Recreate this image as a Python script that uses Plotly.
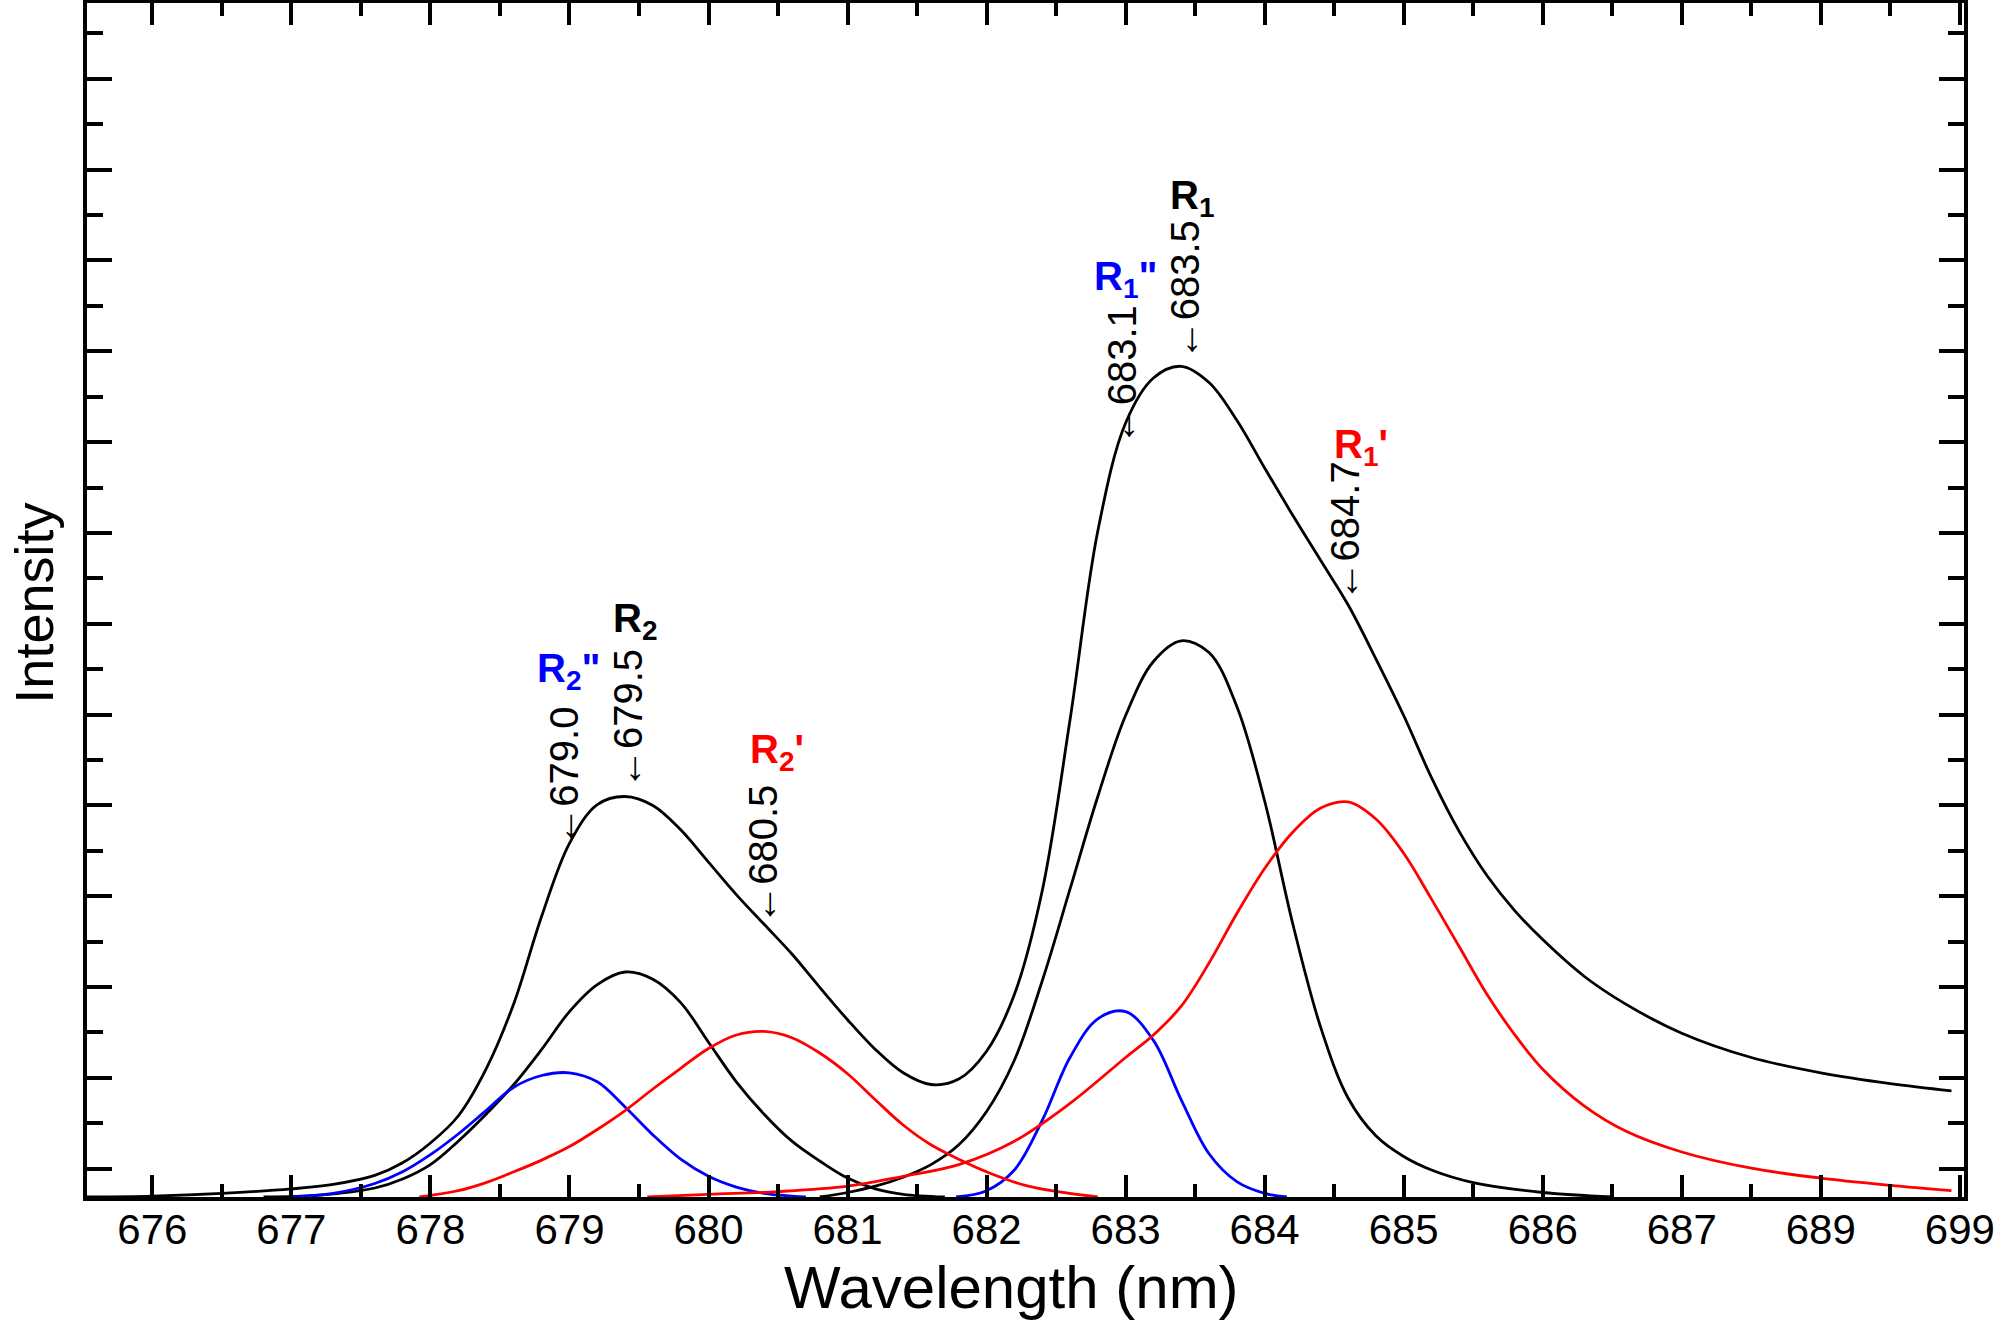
import plotly.graph_objects as go

# ---------------- data (x in axis units, y in arbitrary intensity units) ----------------
tick_vals = [676, 677, 678, 679, 680, 681, 682, 683, 684, 685, 686, 687, 688, 689]
tick_text = ["676", "677", "678", "679", "680", "681", "682", "683", "684", "685", "686", "687", "689", "699"]

x_total = [675.53, 676.0, 676.5, 677.0, 677.3, 677.6, 677.8, 678.0, 678.2, 678.4, 678.6, 678.8,
           679.0, 679.2, 679.4, 679.6, 679.8, 680.0, 680.2, 680.4, 680.6, 680.8, 681.0, 681.2,
           681.4, 681.6, 681.8, 682.0, 682.2, 682.4, 682.6, 682.8, 683.0, 683.2, 683.4, 683.6,
           683.8, 684.0, 684.2, 684.4, 684.6, 684.8, 685.0, 685.2, 685.4, 685.6, 685.8, 686.0,
           686.3, 686.6, 687.0, 687.5, 688.0, 688.5, 688.94]
y_total = [0.00, 0.01, 0.04, 0.09, 0.14, 0.24, 0.38, 0.60, 0.90, 1.42, 2.15, 3.12,
           3.93, 4.36, 4.45, 4.35, 4.08, 3.72, 3.36, 3.03, 2.70, 2.33, 1.97, 1.64,
           1.38, 1.25, 1.31, 1.62, 2.25, 3.40, 5.30, 7.40, 8.60, 9.10, 9.23, 9.05,
           8.63, 8.10, 7.58, 7.08, 6.58, 5.98, 5.35, 4.66, 4.06, 3.57, 3.18, 2.86,
           2.45, 2.14, 1.82, 1.55, 1.38, 1.26, 1.18]

x_r2 = [676.8, 677.2, 677.6, 677.8, 678.0, 678.2, 678.4, 678.6, 678.8, 679.0, 679.2, 679.4,
        679.6, 679.8, 680.0, 680.2, 680.4, 680.6, 680.8, 681.0, 681.2, 681.4, 681.7]
y_r2 = [0.0, 0.02, 0.10, 0.20, 0.36, 0.62, 0.92, 1.25, 1.64, 2.06, 2.36, 2.50,
        2.42, 2.16, 1.72, 1.28, 0.92, 0.62, 0.40, 0.21, 0.09, 0.03, 0.0]

x_r2pp = [677.0, 677.3, 677.6, 677.8, 678.0, 678.2, 678.4, 678.6, 678.8, 679.0, 679.2, 679.4,
          679.6, 679.8, 680.0, 680.2, 680.4, 680.7]
y_r2pp = [0.0, 0.04, 0.15, 0.28, 0.47, 0.70, 0.96, 1.22, 1.35, 1.38, 1.28, 1.00,
          0.69, 0.42, 0.23, 0.11, 0.04, 0.0]

x_r2p = [677.92, 678.2, 678.4, 678.6, 678.8, 679.0, 679.2, 679.4, 679.6, 679.8, 680.0, 680.2,
         680.4, 680.6, 680.8, 681.0, 681.2, 681.4, 681.6, 681.8, 682.0, 682.3, 682.8]
y_r2p = [0.0, 0.07, 0.16, 0.28, 0.41, 0.56, 0.75, 0.96, 1.20, 1.43, 1.65, 1.80,
         1.84, 1.77, 1.60, 1.37, 1.08, 0.80, 0.58, 0.42, 0.28, 0.12, 0.0]

x_r1 = [680.8, 681.0, 681.2, 681.4, 681.6, 681.8, 682.0, 682.2, 682.4, 682.6, 682.8, 683.0,
        683.2, 683.4, 683.6, 683.8, 684.0, 684.2, 684.4, 684.6, 684.8, 685.0, 685.2, 685.5,
        686.0, 686.5]
y_r1 = [0.0, 0.05, 0.12, 0.22, 0.36, 0.58, 0.95, 1.52, 2.40, 3.42, 4.45, 5.35,
        5.95, 6.18, 6.05, 5.45, 4.40, 3.05, 1.90, 1.10, 0.68, 0.45, 0.30, 0.16,
        0.05, 0.0]

x_r1pp = [681.78, 682.0, 682.2, 682.4, 682.6, 682.8, 683.0, 683.2, 683.4, 683.6, 683.8, 684.0, 684.16]
y_r1pp = [0.0, 0.07, 0.30, 0.85, 1.55, 1.98, 2.06, 1.74, 1.08, 0.48, 0.17, 0.04, 0.0]

x_r1p = [679.56, 680.0, 680.5, 681.0, 681.4, 681.8, 682.2, 682.6, 683.0, 683.2, 683.4, 683.6,
         683.8, 684.0, 684.2, 684.4, 684.6, 684.8, 685.0, 685.2, 685.4, 685.6, 685.8, 686.0,
         686.3, 686.6, 687.0, 687.5, 688.0, 688.5, 688.94]
y_r1p = [0.0, 0.03, 0.06, 0.12, 0.23, 0.36, 0.62, 1.04, 1.55, 1.80, 2.12, 2.60,
         3.15, 3.65, 4.05, 4.32, 4.39, 4.20, 3.82, 3.31, 2.78, 2.25, 1.80, 1.42,
         1.01, 0.73, 0.50, 0.32, 0.21, 0.13, 0.07]

# peak position labels (text, x, y)
peak_labels = [("679.0", 678.96, 3.88), ("679.5", 679.42, 4.52), ("680.5", 680.39, 3.01),
               ("683.1", 682.98, 8.34), ("683.5", 683.43, 9.29), ("684.7", 684.58, 6.61)]
# line names (text, x, y, colour)
name_labels = [("R<sub>2</sub>", 679.47, 6.40, "#000000"),
               ('R<sub>2</sub>"', 678.99, 5.84, "#0000ff"),
               ("R<sub>2</sub>'", 680.49, 4.94, "#ff0000"),
               ("R<sub>1</sub>", 683.48, 11.10, "#000000"),
               ('R<sub>1</sub>"', 683.00, 10.20, "#0000ff"),
               ("R<sub>1</sub>'", 684.69, 8.33, "#ff0000")]

# ---------------- figure ----------------
FONT = "Liberation Sans, Arial, Helvetica, sans-serif"
fig = go.Figure()

series = [(x_total, y_total, "#000000"), (x_r2, y_r2, "#000000"), (x_r1, y_r1, "#000000"),
          (x_r2pp, y_r2pp, "#0000ff"), (x_r1pp, y_r1pp, "#0000ff"),
          (x_r2p, y_r2p, "#ff0000"), (x_r1p, y_r1p, "#ff0000")]
for xs, ys, col in series:
    fig.add_trace(go.Scatter(x=xs, y=ys, mode="lines",
                             line=dict(color=col, width=2.8, shape="spline", smoothing=1.0),
                             showlegend=False, hoverinfo="skip"))

for txt, x, y in peak_labels:
    fig.add_annotation(x=x, y=y, xref="x", yref="y", text="\u2190" + txt, showarrow=False,
                       textangle=-90, xanchor="center", yanchor="bottom",
                       font=dict(family=FONT, size=40, color="#000000"), borderpad=0)

for txt, x, y, col in name_labels:
    fig.add_annotation(x=x, y=y, xref="x", yref="y", text="<b>" + txt + "</b>", showarrow=False,
                       xanchor="center", yanchor="middle",
                       font=dict(family=FONT, size=40, color=col))

fig.add_annotation(x=0.4923, y=-0.0762, xref="paper", yref="paper", text="Wavelength (nm)",
                   showarrow=False, xanchor="center", yanchor="middle",
                   font=dict(family=FONT, size=60, color="#000000"))
fig.add_annotation(x=-0.0282, y=0.497, xref="paper", yref="paper", text="Intensity",
                   showarrow=False, xanchor="center", yanchor="middle", textangle=-90,
                   font=dict(family=FONT, size=54, color="#000000"), borderpad=0)

fig.update_xaxes(range=[675.53, 689.03], tickmode="array", tickvals=tick_vals, ticktext=tick_text,
                 ticks="inside", ticklen=22, tickwidth=3.5, tickcolor="#000000",
                 minor=dict(ticks="inside", ticklen=13, tickwidth=3.5, tickcolor="#000000",
                            tickvals=[v + 0.5 for v in tick_vals[:-1]]),
                 showline=True, linewidth=4, linecolor="#000000", mirror="ticks",
                 showgrid=False, zeroline=False, automargin=False, ticklabelstandoff=-7,
                 tickfont=dict(family=FONT, size=42, color="#000000"))
fig.update_yaxes(range=[0, 13.267], tick0=0.316, dtick=1.009, showticklabels=False,
                 ticks="inside", ticklen=25, tickwidth=3.5, tickcolor="#000000",
                 minor=dict(ticks="inside", ticklen=16, tickwidth=3.5, tickcolor="#000000",
                            tick0=0.316, dtick=0.5045),
                 showline=True, linewidth=4, linecolor="#000000", mirror="ticks",
                 showgrid=False, zeroline=False, automargin=False)

fig.update_layout(width=2004, height=1322, autosize=False,
                  margin=dict(l=87, r=40, t=3, b=125),
                  paper_bgcolor="#ffffff", plot_bgcolor="#ffffff",
                  font=dict(family=FONT, color="#000000"))

fig.write_html("out.html", config={"displayModeBar": False},
               post_script="document.body.style.margin='0px';document.body.style.overflow='hidden';")
